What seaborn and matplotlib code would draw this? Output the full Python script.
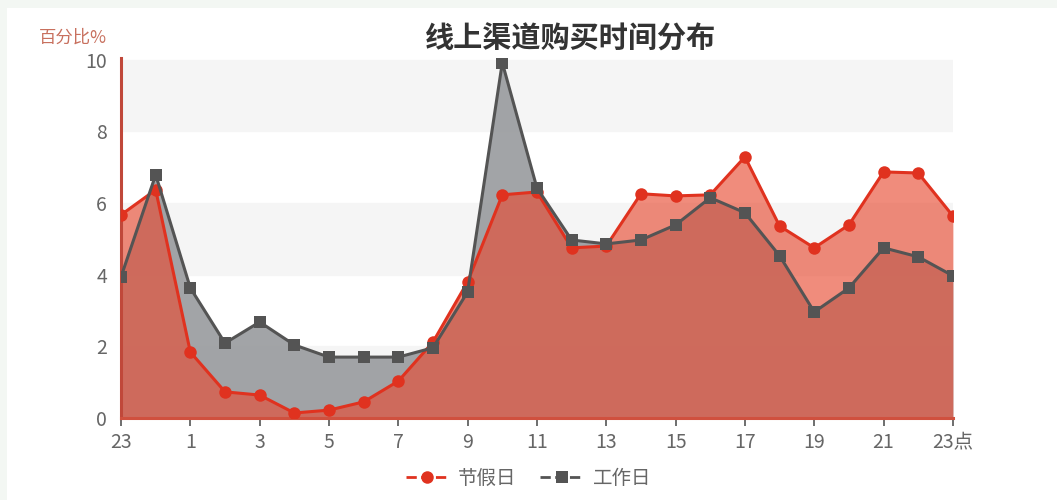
import matplotlib.pyplot as plt
import pandas as pd
import seaborn as sns
from matplotlib.lines import Line2D

# Data (hour of day, 23 -> 23)
hours = ["23", "0", "1", "2", "3", "4", "5", "6", "7", "8", "9", "10", "11",
         "12", "13", "14", "15", "16", "17", "18", "19", "20", "21", "22", "23点"]
holiday = [5.67, 6.37, 1.84, 0.73, 0.64, 0.14, 0.22, 0.45, 1.03, 2.12, 3.80, 6.23, 6.31,
           4.75, 4.80, 6.26, 6.20, 6.23, 7.29, 5.36, 4.75, 5.39, 6.87, 6.84, 5.64]
workday = [3.94, 6.79, 3.63, 2.09, 2.68, 2.04, 1.70, 1.70, 1.70, 1.96, 3.52, 9.92, 6.42,
           4.97, 4.86, 4.97, 5.39, 6.15, 5.73, 4.53, 2.96, 3.63, 4.75, 4.50, 3.97]
series_names = ["节假日", "工作日"]

sns.set_style("white")
plt.rcParams["font.family"] = ["Noto Sans CJK SC", "DejaVu Sans"]

idx = list(range(len(hours)))
df = pd.DataFrame({
    "idx": idx * 2,
    "value": holiday + workday,
    "series": [series_names[0]] * len(hours) + [series_names[1]] * len(hours),
})

fig = plt.figure(figsize=(10.57, 5.0), dpi=100)
fig.patch.set_facecolor("#f3f7f3")
fig.patches.append(plt.Rectangle((0.007, 0.0), 0.993, 0.985, transform=fig.transFigure,
                                 facecolor="white", edgecolor="none", zorder=-10))
ax = fig.add_axes([0.1145, 0.164, 0.787, 0.72])
ax.set_facecolor("white")

# alternating background bands
for lo in (0, 4, 8):
    ax.axhspan(lo, lo + 2, color="#f5f5f5", zorder=0)

red_line = "#e0321f"
red_fill = "#e84b32"
grey_line = "#545454"

ax.fill_between(idx, workday, 0, color="#9d9fa2", alpha=0.95, zorder=1, linewidth=0)
ax.fill_between(idx, holiday, 0, color=red_fill, alpha=0.64, zorder=2, linewidth=0)

sns.lineplot(
    data=df, x="idx", y="value", hue="series", style="series",
    palette={series_names[0]: red_line, series_names[1]: grey_line},
    markers={series_names[0]: "o", series_names[1]: "s"},
    dashes=False, markersize=9, markeredgewidth=0, linewidth=2.2,
    legend=False, ax=ax, zorder=3,
)

ax.set_xlim(0, 24)
ax.set_ylim(0, 10.05)
ax.set_xticks(idx[::2])
ax.set_xticklabels(hours[::2])
ax.set_yticks([0, 2, 4, 6, 8, 10])
ax.tick_params(axis="x", length=6, width=1.2, color="#555555", labelsize=14,
               labelcolor="#666666", pad=4, bottom=True)
ax.tick_params(axis="y", length=0, labelsize=14, labelcolor="#666666", pad=10)
ax.set_xlabel("")
ax.set_ylabel("")

for side in ("top", "right"):
    ax.spines[side].set_visible(False)
ax.spines["left"].set_color("#c0483a")
ax.spines["left"].set_linewidth(2.2)
ax.spines["bottom"].set_color("#d0503e")
ax.spines["bottom"].set_linewidth(2.2)

fig.text(0.54, 0.922, "线上渠道购买时间分布", ha="center", va="center",
         fontsize=21, fontweight="bold", color="#333333")
fig.text(0.037, 0.925, "百分比%", ha="left", va="center", fontsize=12.5,
         color="#c8705e")

handles = [
    Line2D([0], [0], color=red_line, linewidth=2, marker="o", markersize=9,
           markeredgewidth=0, linestyle="--"),
    Line2D([0], [0], color=grey_line, linewidth=2, marker="s", markersize=8,
           markeredgewidth=0, linestyle="--"),
]
fig.legend(handles, series_names, loc="center", bbox_to_anchor=(0.5, 0.043), ncol=2,
           frameon=False, fontsize=14, handlelength=2.2, columnspacing=1.2,
           handletextpad=0.5, labelcolor="#666666")

fig.savefig("out.png", dpi=100, facecolor=fig.get_facecolor())
plt.close(fig)
